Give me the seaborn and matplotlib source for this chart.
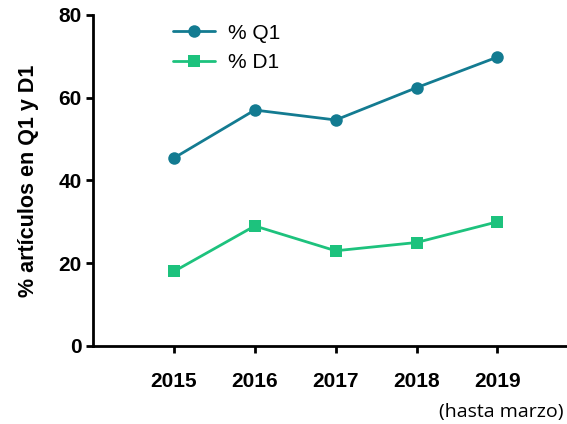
import numpy as np
import pandas as pd
import matplotlib
matplotlib.use("Agg")
import matplotlib.pyplot as plt
import seaborn as sns

# Datos
anios = [2015, 2016, 2017, 2018, 2019]
pct_q1 = [45.4, 57.0, 54.6, 62.4, 69.8]
pct_d1 = [18.0, 29.0, 23.0, 25.0, 30.0]
series = ["% Q1", "% D1"]
colores = ["#137b91", "#1dc27d"]
marcadores = ["o", "s"]
y_ticks = [0, 20, 40, 60, 80]

sns.set_theme(style="ticks")
plt.rcParams['font.family'] = ['Liberation Sans', 'DejaVu Sans']
plt.rcParams['text.color'] = 'black'

df = pd.DataFrame({
    "anio": anios * 2,
    "valor": pct_q1 + pct_d1,
    "serie": [series[0]] * len(anios) + [series[1]] * len(anios),
})

fig = plt.figure(figsize=(5.67, 4.24), dpi=100)
ax = fig.add_axes([0.164, 0.184, 0.836, 0.781])

sns.lineplot(
    data=df, x="anio", y="valor", hue="serie", style="serie",
    hue_order=series, style_order=series,
    palette=colores, markers=marcadores, dashes=False,
    linewidth=2, markersize=9, markeredgewidth=0, ax=ax,
)

ax.set_xlim(2014, 2019.86)
ax.set_ylim(0, 80)
ax.set_xticks(anios)
ax.set_xticklabels([str(a) for a in anios], fontsize=15, fontweight='bold')
ax.set_yticks(y_ticks)
ax.set_yticklabels([str(v) for v in y_ticks], fontsize=15, fontweight='bold')
ax.tick_params(axis='both', direction='out', length=5, width=2, colors='black', pad=3)
ax.tick_params(axis='x', pad=14)

for s in ['top', 'right']:
    ax.spines[s].set_visible(False)
for s in ['left', 'bottom']:
    ax.spines[s].set_linewidth(2)
    ax.spines[s].set_color('black')

ax.set_xlabel("")
ax.set_ylabel("% artículos en Q1 y D1", fontsize=15.5, fontweight='bold',
              color='black', labelpad=14)

leg = ax.legend(loc='upper left', bbox_to_anchor=(0.13, 1.03), frameon=False,
                fontsize=15, handlelength=2.0, handletextpad=0.6, labelspacing=0.5)

fig.text(0.884, 0.028, "(hasta marzo)", fontsize=14, ha='center', va='center',
         family=['Open Sans', 'DejaVu Sans'])

fig.savefig("out.png", dpi=100)
